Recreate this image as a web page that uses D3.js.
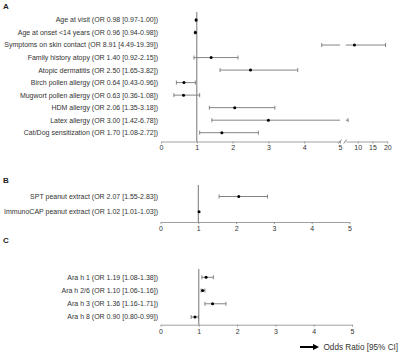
<!DOCTYPE html>
<html lang="en">
<head>
    <meta charset="UTF-8">
    <title>Odds Ratio Forest Plot</title>
    <script src="https://d3js.org/d3.v7.min.js"></script>
    <style>
        body { margin: 0; background: #fff; }
        svg { display: block; font-family: "Liberation Sans", Arial, sans-serif; }
        .label { font-size: 7px; fill: #333; }
        .axis text { font-size: 7px; fill: #333; font-family: "Liberation Sans", Arial, sans-serif; }
        .axis path, .axis line { stroke: #888; stroke-width: 0.8; }
        .ci { stroke: #777; stroke-width: 0.9; }
        .letter { font-size: 8px; font-weight: bold; fill: #222; }
    </style>
</head>
<body>
<div id="chart"></div>
<script>
    // Panel A
    const labelsA = ["Age at visit (OR 0.98 [0.97-1.00])", "Age at onset <14 years (OR 0.96 [0.94-0.98])",
        "Symptoms on skin contact (OR 8.91 [4.49-19.39])", "Family history atopy (OR 1.40 [0.92-2.15])",
        "Atopic dermatitis (OR 2.50 [1.65-3.82])", "Birch pollen allergy (OR 0.64 [0.43-0.96])",
        "Mugwort pollen allergy (OR 0.63 [0.36-1.08])", "HDM allergy (OR 2.06 [1.35-3.18])",
        "Latex allergy (OR 3.00 [1.42-6.78])", "Cat/Dog sensitization (OR 1.70 [1.08-2.72])"];
    const orA = [0.98, 0.96, 8.91, 1.40, 2.50, 0.64, 0.63, 2.06, 3.00, 1.70];
    const lowA = [0.97, 0.94, 4.49, 0.92, 1.65, 0.43, 0.36, 1.35, 1.42, 1.08];
    const highA = [1.00, 0.98, 19.39, 2.15, 3.82, 0.96, 1.08, 3.18, 6.78, 2.72];
    const ticksA1 = [0, 1, 2, 3, 4, 5];
    const ticksA2 = [10, 15, 20];

    // Panel B
    const labelsB = ["SPT peanut extract (OR 2.07 [1.55-2.83])", "ImmunoCAP peanut extract (OR 1.02 [1.01-1.03])"];
    const orB = [2.07, 1.02];
    const lowB = [1.55, 1.01];
    const highB = [2.83, 1.03];

    // Panel C
    const labelsC = ["Ara h 1 (OR 1.19 [1.08-1.38])", "Ara h 2/6 (OR 1.10 [1.06-1.16])",
        "Ara h 3 (OR 1.36 [1.16-1.71])", "Ara h 8 (OR 0.90 [0.80-0.99])"];
    const orC = [1.19, 1.10, 1.36, 0.90];
    const lowC = [1.08, 1.06, 1.16, 0.80];
    const highC = [1.38, 1.16, 1.71, 0.99];
    const ticksBC = [0, 1, 2, 3, 4, 5];

    const W = 400, H = 352;
    const labelX = 158;
    const cap = 2;

    const svg = d3.select("#chart").append("svg")
        .attr("width", W).attr("height", H);

    function rows(g, labels, y) {
        g.selectAll(".label").data(labels).enter().append("text")
            .attr("class", "label")
            .attr("x", labelX)
            .attr("y", d => y(d))
            .attr("dy", "0.35em")
            .attr("text-anchor", "end")
            .text(d => d);
    }

    function ciSeg(g, x0, x1, yy) {
        g.append("line").attr("class", "ci")
            .attr("x1", x0).attr("x2", x1).attr("y1", yy).attr("y2", yy);
    }
    function ciCap(g, xx, yy) {
        g.append("line").attr("class", "ci")
            .attr("x1", xx).attr("x2", xx).attr("y1", yy - cap).attr("y2", yy + cap);
    }
    function dot(g, xx, yy) {
        g.append("circle").attr("cx", xx).attr("cy", yy).attr("r", 1.5).attr("fill", "#000");
    }

    function refLine(g, xx, y0, y1) {
        g.append("line").attr("x1", xx).attr("x2", xx).attr("y1", y0).attr("y2", y1)
            .attr("stroke", "#666").attr("stroke-width", 0.9);
    }

    function axis(g, scale, ticks, yy) {
        g.append("g").attr("class", "axis")
            .attr("transform", `translate(0,${yy})`)
            .call(d3.axisBottom(scale).tickValues(ticks).tickSize(2).tickSizeOuter(0).tickPadding(2)
                .tickFormat(d3.format("d")));
    }

    function letter(t, yy) {
        svg.append("text").attr("class", "letter").attr("x", 3).attr("y", yy).text(t);
    }

    // ---- Panel A (broken axis) ----
    const gA = svg.append("g");
    const axisYA = 141.5;
    const xA1 = d3.scaleLinear().domain([0, 5]).range([161, 340]);
    const xA2 = d3.scaleLinear().domain([6, 20]).range([345.8, 387.3]);
    const xA = v => v <= 5 ? xA1(v) : xA2(v);
    const yA = d3.scalePoint().domain(labelsA).range([20, 132.7]);

    letter("A", 9);
    rows(gA, labelsA, yA);
    refLine(gA, xA(1), 12, axisYA);
    labelsA.forEach((l, i) => {
        const yy = yA(l);
        if (lowA[i] < 5 && highA[i] > 6) {
            ciSeg(gA, xA(lowA[i]), xA1(5), yy);
            ciSeg(gA, xA2(6), xA(highA[i]), yy);
        } else {
            ciSeg(gA, xA(lowA[i]), xA(highA[i]), yy);
        }
        ciCap(gA, xA(lowA[i]), yy);
        ciCap(gA, xA(highA[i]), yy);
        dot(gA, xA(orA[i]), yy);
    });
    axis(gA, xA1, ticksA1, axisYA);
    axis(gA, xA2, ticksA2, axisYA);
    // break marks
    [xA1(5), xA2(6) - 0.6].forEach(bx => {
        gA.append("line").attr("x1", bx - 1.5).attr("x2", bx + 1.5)
            .attr("y1", axisYA + 2).attr("y2", axisYA - 2)
            .attr("stroke", "#666").attr("stroke-width", 0.8);
    });

    // ---- Panel B ----
    const gB = svg.append("g");
    const axisYB = 222;
    const xB = d3.scaleLinear().domain([0, 5]).range([160.5, 349.5]);
    const yB = d3.scalePoint().domain(labelsB).range([196.5, 211.7]);
    letter("B", 182.5);
    rows(gB, labelsB, yB);
    refLine(gB, xB(1), 185, axisYB);
    labelsB.forEach((l, i) => {
        const yy = yB(l);
        if (highB[i] - lowB[i] > 0.1) {
            ciSeg(gB, xB(lowB[i]), xB(highB[i]), yy);
            ciCap(gB, xB(lowB[i]), yy);
            ciCap(gB, xB(highB[i]), yy);
        }
        dot(gB, xB(orB[i]), yy);
    });
    axis(gB, xB, ticksBC, axisYB);

    // ---- Panel C ----
    const gC = svg.append("g");
    const axisYC = 324.7;
    const xC = d3.scaleLinear().domain([0, 5]).range([160.5, 352]);
    const yC = d3.scalePoint().domain(labelsC).range([277.3, 317]);
    letter("C", 243);
    rows(gC, labelsC, yC);
    refLine(gC, xC(1), 269, axisYC);
    labelsC.forEach((l, i) => {
        const yy = yC(l);
        ciSeg(gC, xC(lowC[i]), xC(highC[i]), yy);
        ciCap(gC, xC(lowC[i]), yy);
        ciCap(gC, xC(highC[i]), yy);
        dot(gC, xC(orC[i]), yy);
    });
    axis(gC, xC, ticksBC, axisYC);

    // legend
    svg.append("defs").append("marker")
        .attr("id", "arrow").attr("viewBox", "0 0 10 10")
        .attr("refX", 5).attr("refY", 5)
        .attr("markerWidth", 3.2).attr("markerHeight", 3.2)
        .attr("orient", "auto")
        .append("path").attr("d", "M0,0 L10,5 L0,10 z").attr("fill", "#000");
    svg.append("line")
        .attr("x1", 300).attr("x2", 316).attr("y1", 347).attr("y2", 347)
        .attr("stroke", "#000").attr("stroke-width", 2)
        .attr("marker-end", "url(#arrow)");
    svg.append("text")
        .attr("x", 323.5).attr("y", 347).attr("dy", "0.35em")
        .style("font-size", "8.2px").attr("fill", "#333")
        .text("Odds Ratio [95% CI]");
</script>
</body>
</html>
